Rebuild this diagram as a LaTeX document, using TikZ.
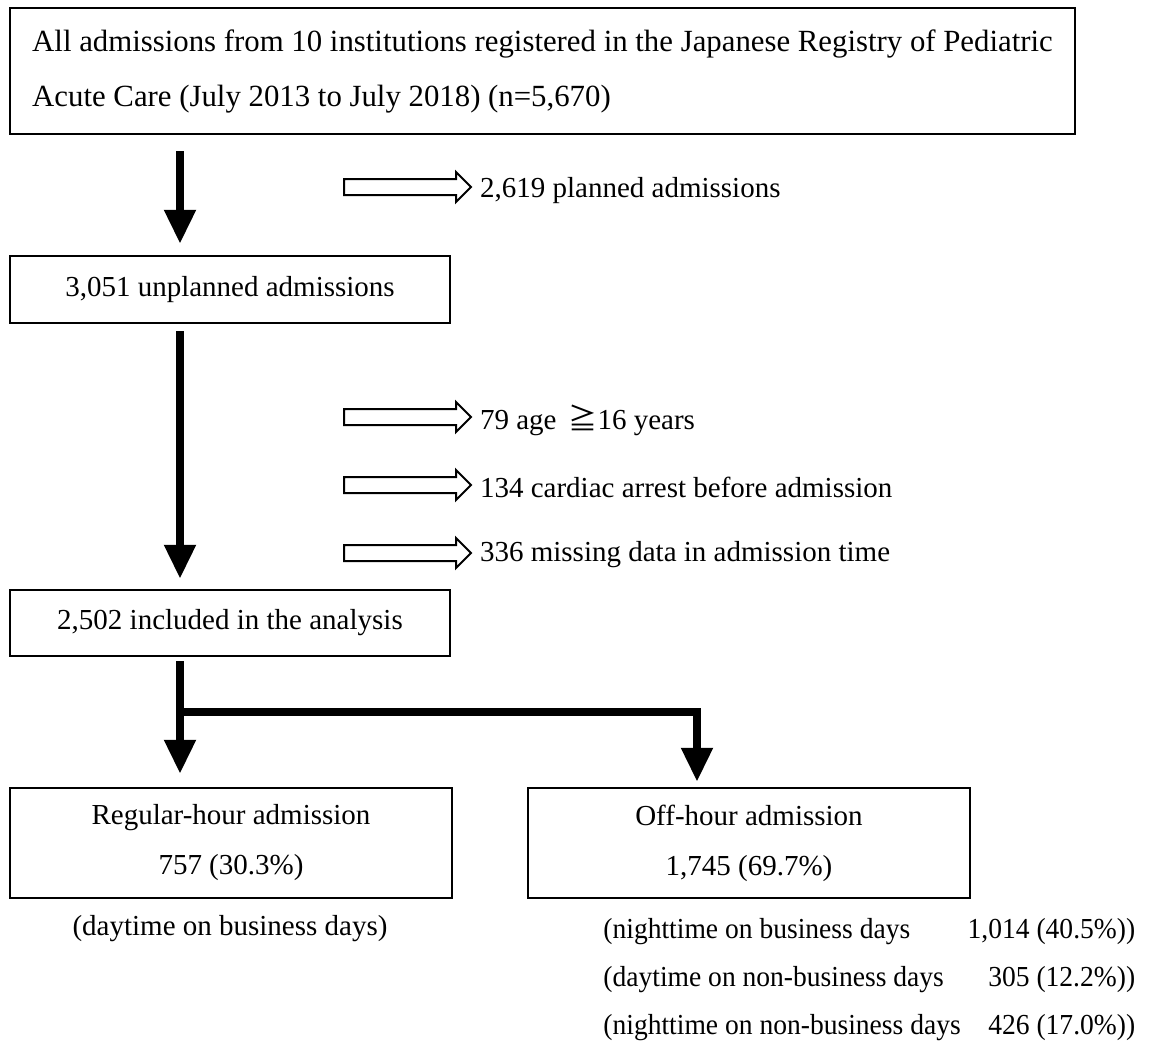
\documentclass[tikz,border=0pt]{standalone}
\usepackage{fontspec}
\setmainfont{Liberation Serif}
\newfontfamily\cjk{Noto Sans CJK JP}
\newfontfamily\narrowserif[FakeStretch=0.95]{Liberation Serif}
\usepackage{tikz}
\usetikzlibrary{arrows.meta,shapes.arrows}

\begin{document}
\begin{tikzpicture}[x=0.5pt,y=-0.5pt,
  every node/.style={font=\fontsize{14.5pt}{24pt}\selectfont},
  box/.style={draw,shape=rectangle,line width=1.2pt,inner sep=0pt},
  flow/.style={line width=4pt,-{Triangle[length=17pt,width=15pt]}},
  hollow/.style={draw,shape=single arrow,line width=1pt,inner xsep=0pt,inner ysep=3.5pt,
    single arrow head extend=3.5pt,minimum height=63.5pt}]
\useasboundingbox (0,0) rectangle (1152,1040);

\node (all) at (542.5,71) [box,minimum width=532.5pt,minimum height=63pt,align=left,
  inner xsep=10pt,font=\fontsize{15.4pt}{27.5pt}\selectfont]
  {All admissions from 10 institutions registered in the Japanese Registry of Pediatric\\
   Acute Care (July 2013 to July 2018) (n=5,670)};
\node (unplanned) at (230,289.5) [box,minimum width=220pt,minimum height=33.5pt] {3,051 unplanned admissions};
\node (included) at (230,623) [box,minimum width=220pt,minimum height=33pt] {2,502 included in the analysis};
\node (regular) at (231,843) [box,minimum width=221pt,minimum height=55pt,align=center,
  font=\fontsize{14.5pt}{25pt}\selectfont] {Regular-hour admission\\757 (30.3\%)};
\node (offhour) at (749,843) [box,minimum width=221pt,minimum height=55pt,align=center,
  font=\fontsize{14.5pt}{25pt}\selectfont] {Off-hour admission\\1,745 (69.7\%)};

\node (planarrow) at (403.5,187) [hollow] {};
\node (planned) at (473,191) [anchor=west] {2,619 planned admissions};
\node (agearrow) at (403.5,417) [hollow] {};
\node (age) at (473,420) [anchor=west] {79 age\hspace{6pt}{\cjk ≧}16 years};
\node (arrestarrow) at (403.5,485) [hollow] {};
\node (arrest) at (473,487) [anchor=west] {134 cardiac arrest before admission};
\node (missingarrow) at (403.5,553) [hollow] {};
\node (missing) at (473,555) [anchor=west] {336 missing data in admission time};

\node (daytime) at (230,929) {(daytime on business days)};
\node (offdetail) at (603,977) [anchor=west,inner sep=0pt,
  font=\narrowserif\fontsize{14.5pt}{24pt}\selectfont] {\begin{tabular}{@{}l@{ }r@{}}
  (nighttime on business days & 1,014 (40.5\%))\\
  (daytime on non-business days & 305 (12.2\%))\\
  (nighttime on non-business days & 426 (17.0\%))
\end{tabular}};

\coordinate (split) at (180,712);
\coordinate (bend) at (697,712);

\draw [flow,shorten <=8pt,shorten >=5.5pt] (all.south -| split) -- (unplanned.north -| split);
\draw [flow,shorten <=3.5pt,shorten >=5pt] (unplanned.south -| split) -- (included.north -| split);
\draw [flow,shorten <=2pt,shorten >=6.5pt] (included.south -| split) -- (regular.north -| split);
\draw [flow,shorten >=2.5pt] (split) -- (bend) -- (offhour.north -| bend);
\end{tikzpicture}
\end{document}
